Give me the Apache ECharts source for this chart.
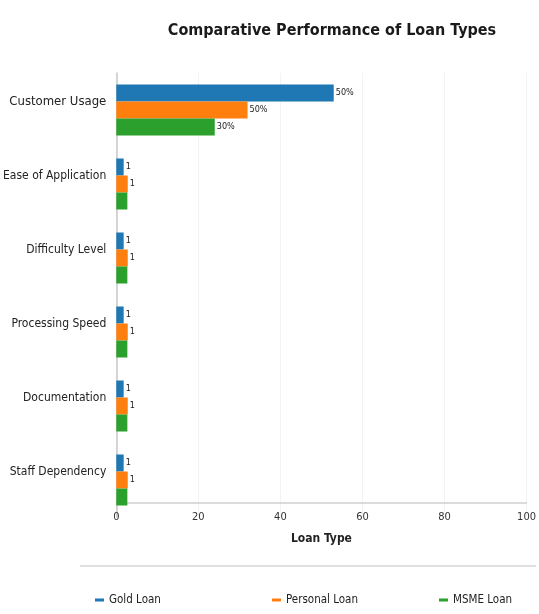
<!DOCTYPE html>
<html><head><meta charset="utf-8">
<script src="https://cdn.jsdelivr.net/npm/echarts@6/dist/echarts.min.js"></script>
<style>html,body{margin:0;padding:0;background:#fff}#c{width:539px;height:614px}</style>
</head><body><div id="c"></div>
<script>
var categories = ["Customer Usage","Ease of Application","Difficulty Level","Processing Speed","Documentation","Staff Dependency"];
var seriesNames = ["Gold Loan","Personal Loan","MSME Loan"];
var goldValues = [53, 1.8, 1.8, 1.8, 1.8, 1.8];
var personalValues = [32, 2.8, 2.8, 2.8, 2.8, 2.8];
var msmeValues = [24, 2.7, 2.7, 2.7, 2.7, 2.7];
var goldLabels = ["50%","1","1","1","1","1"];
var personalLabels = ["50%","1","1","1","1","1"];
var msmeLabels = ["30%","","","","",""];
var xTicks = [0,20,40,60,80,100];
var colors = ["#1f77b4","#ff7f0e","#2ca02c"];

var FONT = "'DejaVu Sans Condensed', 'Liberation Sans Narrow', 'Open Sans', sans-serif";
var chart = echarts.init(document.getElementById('c'));
function mk(name, vals, labels, color){
  return {
    name: name, type: 'bar', data: vals, barWidth: 17, barGap: '0%',
    itemStyle: {color: color},
    label: {show: true, position: 'right', distance: 2, fontFamily: FONT, fontSize: 9, color: '#222',
      formatter: function(p){ return labels[p.dataIndex]; }}
  };
}
chart.setOption({
  animation: false,
  textStyle: {fontFamily: FONT},
  title: {text: 'Comparative Performance of Loan Types', left: 327, top: 18, textAlign: 'center',
    textStyle: {fontFamily: FONT, fontSize: 16, fontWeight: 'bold', color: '#1a1a1a'}},
  grid: {left: 116, right: 10, top: 73, bottom: 97, containLabel: false},
  xAxis: {type: 'value', min: xTicks[0], max: xTicks[xTicks.length-1], interval: 20, offset: -14,
    name: 'Loan Type', nameLocation: 'middle', nameGap: 30,
    nameTextStyle: {fontFamily: FONT, fontSize: 12, fontWeight: 'bold', color: '#222'},
    axisLine: {show: true, lineStyle: {color: '#d0d0d0', width: 1.5}},
    axisTick: {show: false},
    axisLabel: {fontFamily: FONT, fontSize: 11, color: '#333', margin: 9},
    splitLine: {show: true, lineStyle: {color: '#f3f3f3'}}},
  yAxis: {type: 'category', data: categories, inverse: true,
    axisLine: {show: true, lineStyle: {color: '#c8c8c8', width: 1.5}},
    axisTick: {show: false},
    axisLabel: {margin: 10, padding: [0,0,16,0],
      formatter: function(v, i){ return i === 0 ? '{big|' + v + '}' : '{n|' + v + '}'; },
      rich: {big: {fontFamily: FONT, fontSize: 13, color: '#222'},
             n: {fontFamily: FONT, fontSize: 12, color: '#222'}}}},
  legend: [0,1,2].map(function(i){
    return {data: [seriesNames[i]], left: [90, 267, 434][i], top: 589, icon: 'rect', itemWidth: 9, itemHeight: 3,
      textStyle: {fontFamily: FONT, fontSize: 11.5, color: '#222'}};
  }),
  graphic: [{type: 'line', shape: {x1: 80, y1: 566, x2: 536, y2: 566}, style: {stroke: '#d6d6d6', lineWidth: 1.5}}],
  series: [mk(seriesNames[0], goldValues, goldLabels, colors[0]),
           mk(seriesNames[1], personalValues, personalLabels, colors[1]),
           mk(seriesNames[2], msmeValues, msmeLabels, colors[2])]
});
</script></body></html>
